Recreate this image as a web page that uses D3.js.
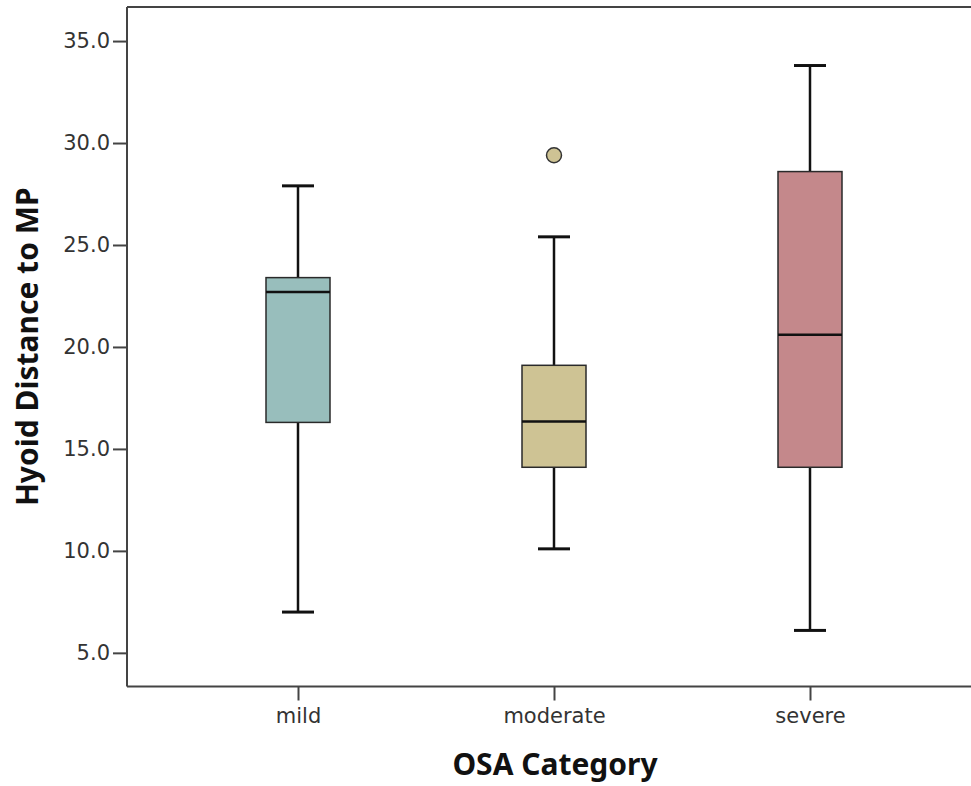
<!DOCTYPE html>
<html>
<head>
<meta charset="utf-8">
<script src="https://cdn.jsdelivr.net/npm/d3@7"></script>
<style>
  html, body { margin: 0; padding: 0; background: #fff; }
  svg { display: block; }
</style>
</head>
<body>
<svg id="chart" width="971" height="786"></svg>
<script>
const categories = ["mild", "moderate", "severe"];
const whiskerLow  = [7.0, 10.1, 6.1];
const q1          = [16.3, 14.1, 14.1];
const median      = [22.7, 16.35, 20.6];
const q3          = [23.4, 19.1, 28.6];
const whiskerHigh = [27.9, 25.4, 33.8];
const outliers    = [[], [29.4], []];
const colors      = ["#98bebc", "#cec394", "#c4888b"];
const yTicks      = [5, 10, 15, 20, 25, 30, 35];

(function () {
const svg = d3.select("#chart");
const pLeft = 127, pRight = 971, pTop = 7, pBottom = 686.5;

const y = d3.scaleLinear().domain([3.35, 36.67]).range([pBottom, pTop]);
const x = d3.scalePoint().domain(categories).range([298, 810]);

const boxW = 64, capW = 32;

// top frame line
svg.append("line").attr("x1", pLeft).attr("x2", pRight).attr("y1", pTop).attr("y2", pTop)
  .attr("stroke", "#444").attr("stroke-width", 2);

// Y axis
const yAxis = d3.axisLeft(y).tickValues(yTicks).tickFormat(d3.format(".1f"))
  .tickSize(14).tickPadding(3);
const gy = svg.append("g").attr("transform", `translate(${pLeft},0)`).call(yAxis);
gy.select(".domain").remove();
gy.selectAll(".tick line").attr("stroke", "#444").attr("stroke-width", 2);
gy.selectAll(".tick text").attr("fill", "#333").attr("font-family", "DejaVu Sans")
  .attr("font-size", 21);
svg.append("line").attr("x1", pLeft).attr("x2", pLeft).attr("y1", pTop).attr("y2", pBottom)
  .attr("stroke", "#444").attr("stroke-width", 2);

// X axis
const xAxis = d3.axisBottom(x).tickSize(14).tickPadding(8);
const gx = svg.append("g").attr("transform", `translate(0,${pBottom})`).call(xAxis);
gx.select(".domain").remove();
gx.selectAll(".tick line").attr("stroke", "#444").attr("stroke-width", 2);
gx.selectAll(".tick text").attr("fill", "#333").attr("font-family", "DejaVu Sans")
  .attr("font-size", 21);
svg.append("line").attr("x1", pLeft).attr("x2", pRight).attr("y1", pBottom).attr("y2", pBottom)
  .attr("stroke", "#444").attr("stroke-width", 2);

// boxes
const data = categories.map((c, i) => ({
  c, lo: whiskerLow[i], q1: q1[i], med: median[i], q3: q3[i], hi: whiskerHigh[i],
  out: outliers[i], color: colors[i]
}));

const g = svg.append("g").selectAll("g").data(data).join("g");

// whiskers
g.append("line").attr("x1", d => x(d.c)).attr("x2", d => x(d.c))
  .attr("y1", d => y(d.hi)).attr("y2", d => y(d.q3))
  .attr("stroke", "#111").attr("stroke-width", 2.5);
g.append("line").attr("x1", d => x(d.c)).attr("x2", d => x(d.c))
  .attr("y1", d => y(d.q1)).attr("y2", d => y(d.lo))
  .attr("stroke", "#111").attr("stroke-width", 2.5);
// caps
g.append("line").attr("x1", d => x(d.c) - capW / 2).attr("x2", d => x(d.c) + capW / 2)
  .attr("y1", d => y(d.hi)).attr("y2", d => y(d.hi))
  .attr("stroke", "#111").attr("stroke-width", 3);
g.append("line").attr("x1", d => x(d.c) - capW / 2).attr("x2", d => x(d.c) + capW / 2)
  .attr("y1", d => y(d.lo)).attr("y2", d => y(d.lo))
  .attr("stroke", "#111").attr("stroke-width", 3);
// box
g.append("rect").attr("x", d => x(d.c) - boxW / 2).attr("width", boxW)
  .attr("y", d => y(d.q3)).attr("height", d => y(d.q1) - y(d.q3))
  .attr("fill", d => d.color).attr("stroke", "#2a2a2a").attr("stroke-width", 1.5);
// median
g.append("line").attr("x1", d => x(d.c) - boxW / 2).attr("x2", d => x(d.c) + boxW / 2)
  .attr("y1", d => y(d.med)).attr("y2", d => y(d.med))
  .attr("stroke", "#111").attr("stroke-width", 2.5);
// outliers
g.selectAll("circle").data(d => d.out.map(v => ({ v, c: d.c, color: d.color }))).join("circle")
  .attr("cx", d => x(d.c)).attr("cy", d => y(d.v)).attr("r", 7.5)
  .attr("fill", d => d.color).attr("stroke", "#333").attr("stroke-width", 1.5);

// axis titles
svg.append("text").attr("x", (pLeft + pRight) / 2 + 6).attr("y", 775)
  .attr("text-anchor", "middle").attr("font-family", "Noto Sans").attr("font-weight", "bold")
  .attr("font-size", 30).attr("fill", "#111").text("OSA Category");
svg.append("text").attr("transform", `translate(38,${(pTop + pBottom) / 2}) rotate(-90)`)
  .attr("text-anchor", "middle").attr("font-family", "Noto Sans").attr("font-weight", "bold")
  .attr("font-size", 30).attr("fill", "#111").text("Hyoid Distance to MP");
})();
</script>
</body>
</html>
